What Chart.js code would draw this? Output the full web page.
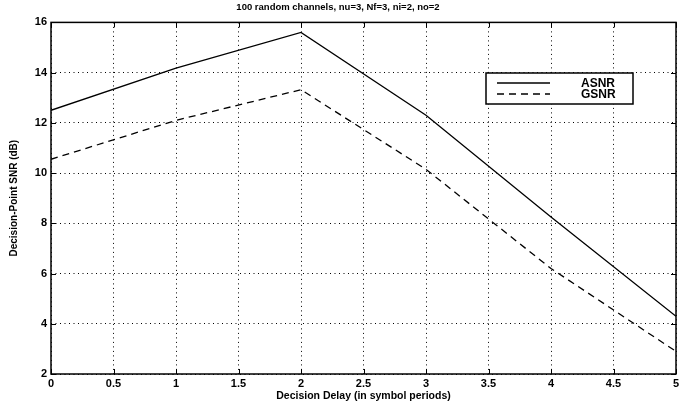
<!DOCTYPE html>
<html>
<head>
<meta charset="utf-8">
<script src="https://cdn.jsdelivr.net/npm/chart.js@4"></script>
<style>
  html, body { margin: 0; padding: 0; background: #fff; }
  #wrap { width: 685px; height: 405px; }
</style>
</head>
<body>
<div id="wrap"><canvas id="miGrafico" width="685" height="405"></canvas></div>
<script>
// datos
var delays = [0, 1, 2, 3, 4, 5];
var asnr = [12.5, 14.18, 15.6, 12.3, 8.25, 4.3];
var gsnr = [10.55, 12.1, 13.32, 10.15, 6.2, 2.9];
var seriesNames = ['ASNR', 'GSNR'];
var xTicks = [0, 0.5, 1, 1.5, 2, 2.5, 3, 3.5, 4, 4.5, 5];
var yTicks = [2, 4, 6, 8, 10, 12, 14, 16];

var fuente = 'Arial, "Liberation Sans", Helvetica, sans-serif';

function puntos(ys) {
    return delays.map(function (x, i) { return { x: x, y: ys[i] }; });
}

// marco, marcas hacia dentro y leyenda al estilo MATLAB
var marcoPlugin = {
    id: 'marco',
    afterDraw: function (chart) {
        var c = chart.ctx, a = chart.chartArea;
        var xs = chart.scales.x, ys = chart.scales.y;
        c.save();
        c.strokeStyle = '#000';
        c.lineWidth = 1.5;
        c.setLineDash([]);
        c.strokeRect(a.left, a.top, a.right - a.left, a.bottom - a.top);
        c.lineWidth = 1;
        c.beginPath();
        xTicks.forEach(function (v) {
            var px = Math.round(xs.getPixelForValue(v)) + 0.5;
            c.moveTo(px, a.bottom); c.lineTo(px, a.bottom - 5);
            c.moveTo(px, a.top); c.lineTo(px, a.top + 5);
        });
        yTicks.forEach(function (v) {
            var py = Math.round(ys.getPixelForValue(v)) + 0.5;
            c.moveTo(a.left, py); c.lineTo(a.left + 5, py);
            c.moveTo(a.right, py); c.lineTo(a.right - 5, py);
        });
        c.stroke();

        // leyenda
        var bx = 486, by = 73, bw = 147, bh = 31;
        c.fillStyle = '#fff';
        c.fillRect(bx, by, bw, bh);
        c.lineWidth = 1.5;
        c.strokeRect(bx, by, bw, bh);
        c.font = 'bold 12px ' + fuente;
        c.textBaseline = 'middle';
        c.textAlign = 'left';
        chart.data.datasets.forEach(function (ds, i) {
            var ly = by + 10 + i * 11;
            c.beginPath();
            c.lineWidth = 1.3;
            c.setLineDash(ds.borderDash || []);
            c.moveTo(bx + 11, ly);
            c.lineTo(bx + 64, ly);
            c.stroke();
            c.setLineDash([]);
            c.fillStyle = '#000';
            c.fillText(ds.label, bx + 95, ly + 0.5);
        });
        c.restore();
    }
};

var ctx = document.getElementById('miGrafico').getContext('2d');

var data = {
    datasets: [{
        label: seriesNames[0],
        data: puntos(asnr),
        borderColor: '#000',
        borderWidth: 1.3,
        pointRadius: 0,
        tension: 0,
        fill: false
    }, {
        label: seriesNames[1],
        data: puntos(gsnr),
        borderColor: '#000',
        borderWidth: 1.3,
        borderDash: [7, 5],
        pointRadius: 0,
        tension: 0,
        fill: false
    }]
};

var options = {
    responsive: false,
    animation: false,
    layout: { padding: { left: 0, right: 9, top: 0, bottom: 0 } },
    plugins: {
        legend: { display: false },
        tooltip: { enabled: false },
        title: {
            display: true,
            text: '100 random channels, nu=3, Nf=3, ni=2, no=2',
            color: '#000',
            font: { family: fuente, size: 9.5, weight: 'bold' },
            padding: { top: 2, bottom: 9 }
        }
    },
    scales: {
        x: {
            type: 'linear',
            min: 0,
            max: 5,
            afterBuildTicks: function (s) { s.ticks = xTicks.map(function (v) { return { value: v }; }); },
            afterFit: function (s) { s.height = 31; },
            ticks: {
                color: '#000',
                font: { family: fuente, size: 11, weight: 'bold' },
                padding: 3,
                maxRotation: 0,
                autoSkip: false,
                callback: function (v) { return String(v); }
            },
            grid: { color: '#000', lineWidth: 1, drawTicks: false },
            border: { display: false, dash: [1, 3.5] },
            title: {
                display: true,
                text: 'Decision Delay (in symbol periods)',
                color: '#000',
                font: { family: fuente, size: 10.5, weight: 'bold' },
                padding: { top: 0, bottom: 3 }
            }
        },
        y: {
            min: 2,
            max: 16,
            afterBuildTicks: function (s) { s.ticks = yTicks.map(function (v) { return { value: v }; }); },
            afterFit: function (s) { s.width = 51; },
            ticks: {
                color: '#000',
                font: { family: fuente, size: 11, weight: 'bold' },
                padding: 4
            },
            grid: { color: '#000', lineWidth: 1, drawTicks: false },
            border: { display: false, dash: [1, 3.5] },
            title: {
                display: true,
                text: 'Decision-Point SNR (dB)',
                color: '#000',
                font: { family: fuente, size: 10, weight: 'bold' },
                padding: { top: 8, bottom: 2 }
            }
        }
    }
};

var miGrafico = new Chart(ctx, {
    type: 'line',
    data: data,
    options: options,
    plugins: [marcoPlugin]
});
</script>
</body>
</html>
